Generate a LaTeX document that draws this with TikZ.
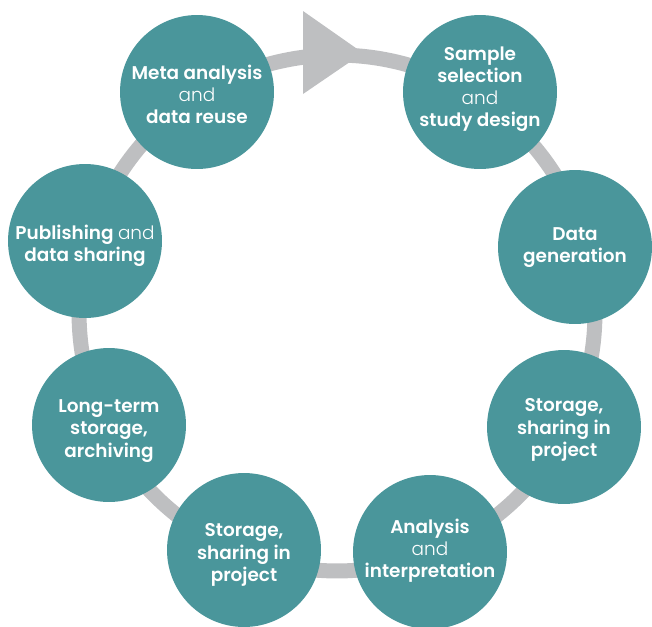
\documentclass[tikz,border=0pt]{standalone}
\usepackage{fontspec}
\setmainfont{Poppins}[UprightFont={* SemiBold}, BoldFont={* SemiBold}]
\newfontfamily\lightfont{Poppins Light}
\definecolor{teal1}{HTML}{4A969B}
\definecolor{ring}{HTML}{BEBFC1}
\newcommand{\lt}[1]{{\lightfont #1}}
\tikzset{
  stage/.style={circle, fill=teal1, draw=none, minimum size=3.08cm, inner sep=0pt},
  stagetext/.style={inner sep=0pt, text=white, align=center,
    font=\fontsize{10.5}{12.6}\selectfont},
}
\begin{document}
\begin{tikzpicture}[x=0.02cm,y=-0.02cm]
\useasboundingbox (0,0) rectangle (652,626);
\coordinate (c) at (337,313);
\draw[ring, line width=0.3cm] (c) circle[radius=5.16cm];
\fill[ring] (303,11) -- (363,53) -- (303,94) -- cycle;
\node[stage] (meta) at (197,92) {};
\node[stage] (sample) at (480,92) {};
\node[stage] (gen) at (575,247) {};
\node[stage] (storr) at (564,427) {};
\node[stage] (anal) at (430,552) {};
\node[stage] (storb) at (244,550) {};
\node[stage] (long) at (109,425) {};
\node[stage] (pub) at (85,241) {};
\node[stagetext] (meta-t) at ([yshift=-0.04cm]meta) {Meta analysis\\\lt{and}\\data reuse};
\node[stagetext] (sample-t) at ([yshift=0.06cm]sample) {Sample\\selection\\\lt{and}\\study design};
\node[stagetext] (gen-t) at ([yshift=-0.02cm]gen) {Data\\generation};
\node[stagetext] (storr-t) at ([yshift=-0.06cm]storr) {Storage,\\sharing in\\project};
\node[stagetext] (anal-t) at ([yshift=0.02cm]anal) {Analysis\\\lt{and}\\interpretation};
\node[stagetext] (storb-t) at ([yshift=-0.1cm]storb) {Storage,\\sharing in\\project};
\node[stagetext] (long-t) at ([yshift=-0.12cm]long) {Long-term\\storage,\\archiving};
\node[stagetext] (pub-t) at ([yshift=-0.1cm]pub) {Publishing \lt{and}\\data sharing};
\end{tikzpicture}
\end{document}
